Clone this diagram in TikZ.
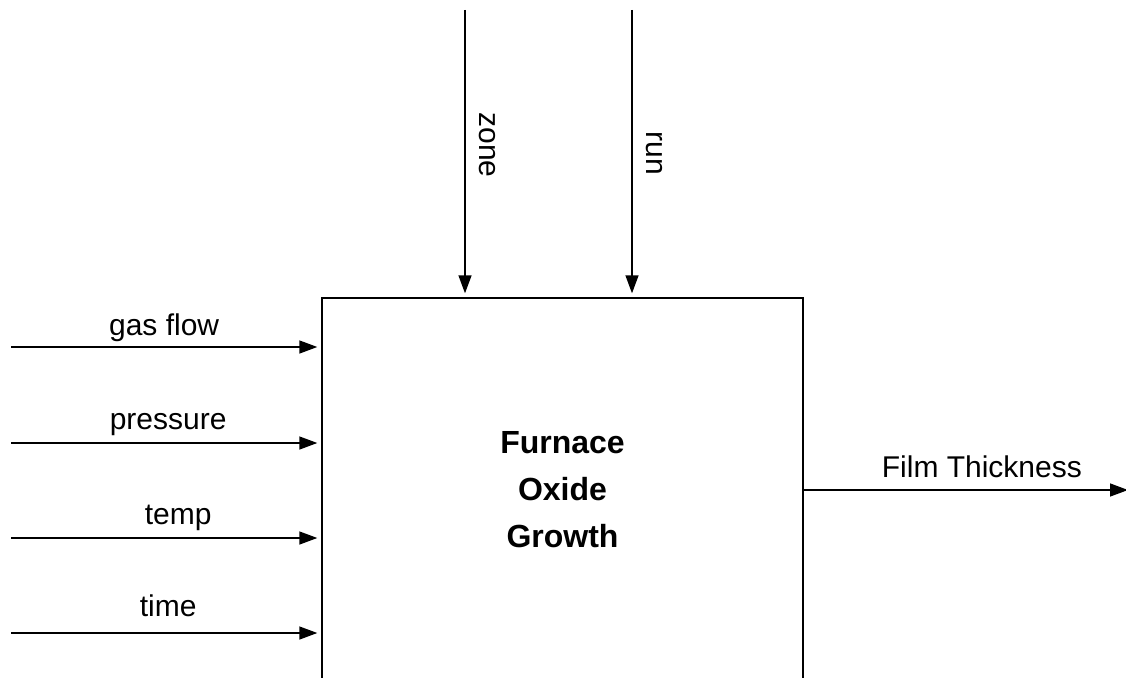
\documentclass[tikz,border=0pt]{standalone}
\usepackage{fontspec}
\setmainfont{Liberation Sans}
\usetikzlibrary{arrows.meta}

\begin{document}
\begin{tikzpicture}[
    x=1pt, y=-1pt,
    >={Triangle[length=18pt,width=13pt]},
    every node/.style={font=\fontsize{30}{36}\selectfont},
    line width=1.4pt
]

\useasboundingbox (0,0) rectangle (1126,677);
\clip (0,0) rectangle (1126,677);

% the process box (runs past the lower edge)
\node[draw, minimum width=481pt, minimum height=384pt, inner sep=0pt,
      align=center, font=\fontsize{32}{47}\selectfont\bfseries]
      (fog) at (562.5,490) {Furnace\\Oxide\\Growth};

% inputs from the left
\coordinate (gf) at (11,347);
\coordinate (pr) at (11,443);
\coordinate (tp) at (11,538);
\coordinate (tm) at (11,633);

\draw[->, shorten >=4pt] (gf) -- (fog.west |- gf)
      node[midway, anchor=base, xshift=-2pt, yshift=12pt] {gas flow};
\draw[->, shorten >=4pt] (pr) -- (fog.west |- pr)
      node[midway, anchor=base, xshift=2pt, yshift=14pt] {pressure};
\draw[->, shorten >=4pt] (tp) -- (fog.west |- tp)
      node[midway, anchor=base, xshift=12pt, yshift=14pt] {temp};
\draw[->, shorten >=4pt] (tm) -- (fog.west |- tm)
      node[midway, anchor=base, xshift=2pt, yshift=17pt] {time};

% controls from the top
\coordinate (zn) at (465,10);
\coordinate (rn) at (632,10);

\draw[->, shorten >=4pt] (zn) -- (zn |- fog.north)
      node[pos=.47, xshift=14pt, rotate=-90, anchor=base] {zone};
\draw[->, shorten >=4pt] (rn) -- (rn |- fog.north)
      node[pos=.5, xshift=14pt, rotate=-90, anchor=base] {run};

% output
\coordinate (ft) at (1128,490);
\draw[->] (fog.east |- ft) -- (ft)
      node[midway, anchor=base, xshift=16pt, yshift=13pt] {Film Thickness};

\end{tikzpicture}
\end{document}
